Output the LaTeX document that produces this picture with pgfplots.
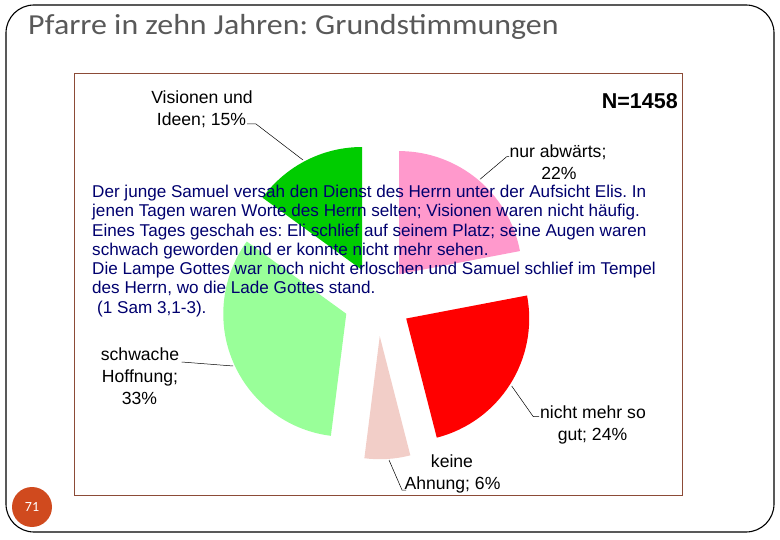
\documentclass[border=0pt]{standalone}
\usepackage{fontspec}
\setmainfont{Liberation Sans}
\newfontfamily\titlefont[FakeStretch=1.1]{Carlito}
\newfontfamily\numfont{Carlito}
\usepackage{pgfplots}
\usepackage{pgfplotstable}
\pgfplotsset{compat=1.18}
\frenchspacing

\definecolor{slice0}{RGB}{255,153,204}
\definecolor{slice1}{RGB}{255,0,0}
\definecolor{slice2}{RGB}{242,206,200}
\definecolor{slice3}{RGB}{153,255,153}
\definecolor{slice4}{RGB}{0,204,0}
\definecolor{framebrown}{RGB}{140,75,55}
\definecolor{titlegray}{RGB}{89,89,89}
\definecolor{textblue}{RGB}{0,0,110}
\definecolor{pagedot}{RGB}{208,74,30}

% shares in percent, clockwise from 12 o'clock; explode in px
\pgfplotstableread{
share explode
22 34
24 34
6  36
33 34
15 34
}\piedata

\begin{document}
\begin{tikzpicture}
\begin{axis}[
    hide axis, scale only axis, clip=false,
    width=780pt, height=540pt,
    xmin=0, xmax=780, ymin=0, ymax=540,
    y dir=reverse,
    ]
  % slide frame and chart frame
  \draw[black, line width=1.1pt, rounded corners=28pt] (axis cs:6,5) rectangle (axis cs:774,532);
  \draw[framebrown, line width=0.9pt] (axis cs:74,73) rectangle (axis cs:682,495);

  % pie slices
  \def\angstart{90}
  \pgfplotsforeachungrouped \i in {0,...,4}{%
    \pgfplotstablegetelem{\i}{share}\of\piedata \let\share\pgfplotsretval
    \pgfplotstablegetelem{\i}{explode}\of\piedata \let\expl\pgfplotsretval
    \pgfmathsetmacro\angend{\angstart-3.6*\share}
    \pgfmathsetmacro\angmid{(\angstart+\angend)/2}
    \pgfmathsetmacro\cxx{377.5+\expl*cos(\angmid)}
    \pgfmathsetmacro\cyy{300.3-\expl*sin(\angmid)}
    \edef\cmd{\noexpand\fill[slice\i] (axis cs:\cxx,\cyy) -- ++(\angstart:123pt)
      arc[start angle=\angstart, end angle=\angend, radius=123pt] -- cycle;}
    \cmd
    \global\let\angstart\angend
  }

  % leader lines
  \addplot[black, line width=0.5pt] coordinates {(247,124) (256,124) (303,160)};
  \addplot[black, line width=0.5pt] coordinates {(509,156.7) (506.7,156.7) (480,179.3)};
  \addplot[black, line width=0.5pt] coordinates {(181.7,362) (233,366)};
  \addplot[black, line width=0.5pt] coordinates {(511.7,386) (533.3,416.7) (539,416.7)};
  \addplot[black, line width=0.5pt] coordinates {(389,460) (402,490) (406,490)};

  % slice labels
  \begin{scope}[every node/.style={inner sep=0pt, anchor=base, font=\fontsize{17.6}{21}\selectfont}]
    \node at (axis cs:202,104) {Visionen und};
    \node at (axis cs:201.5,125.5) {Ideen; 15\%};
    \node at (axis cs:558,158) {nur abwärts;};
    \node at (axis cs:559,180) {22\%};
    \node at (axis cs:140,360.7) {schwache};
    \node at (axis cs:140,383) {Hoffnung;};
    \node at (axis cs:139.5,404) {33\%};
    \node at (axis cs:593,418) {nicht mehr so};
    \node at (axis cs:592.5,440) {gut; 24\%};
    \node at (axis cs:452,467.3) {keine};
    \node at (axis cs:452.5,489.5) {Ahnung; 6\%};
  \end{scope}
  \node[inner sep=0pt, anchor=base east, font=\bfseries\fontsize{21.5}{24}\selectfont] at (axis cs:678,109) {N=1458};

  % quotation
  \begin{scope}[every node/.style={inner sep=0pt, anchor=base west, text=textblue, font=\fontsize{17.1}{19}\selectfont}]
    \node at (axis cs:92,197.7) {Der junge Samuel versah den Dienst des Herrn unter der Aufsicht Elis. In};
    \node at (axis cs:92,217.0) {jenen Tagen waren Worte des Herrn selten; Visionen waren nicht häufig.};
    \node at (axis cs:92,236.2) {Eines Tages geschah es: Eli schlief auf seinem Platz; seine Augen waren};
    \node at (axis cs:92,255.5) {schwach geworden und er konnte nicht mehr sehen.};
    \node at (axis cs:92,274.7) {Die Lampe Gottes war noch nicht erloschen und Samuel schlief im Tempel};
    \node at (axis cs:92,294.0) {des Herrn, wo die Lade Gottes stand.};
    \node at (axis cs:97,313.2) {(1 Sam 3,1-3).};
  \end{scope}

  % title and page number
  \node[inner sep=0pt, anchor=base west, text=titlegray, font=\titlefont\fontsize{29}{32}\selectfont] at (axis cs:28,35) {Pfarre in zehn Jahren: Grundstimmungen};
  \fill[pagedot] (axis cs:32,507) circle[radius=20pt];
  \node[text=white, font=\numfont\fontsize{14}{16}\selectfont] at (axis cs:32,507) {71};
\end{axis}
\pgfresetboundingbox
\path[use as bounding box] (current axis.south west) rectangle (current axis.north east);
\end{tikzpicture}
\end{document}
